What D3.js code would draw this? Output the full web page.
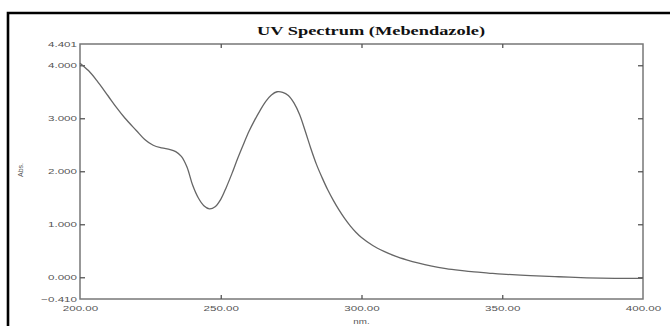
<!DOCTYPE html>
<html>
<head>
<meta charset="utf-8">
<script src="https://cdn.jsdelivr.net/npm/d3@7"></script>
<style>
  body { margin: 0; background: #fff; }
  svg text { font-family: Arial, "Liberation Sans", sans-serif; }
</style>
</head>
<body>
<div id="uvChart"></div>
<script>
// wavelength (nm) and absorbance
var wavelength = [200, 203, 206, 210, 213, 216, 220, 223, 226, 229, 232, 234, 236, 238, 240,
    242, 244, 246, 248, 250, 252, 254, 256, 258, 260, 262, 264, 266, 268, 270, 272, 274, 276,
    278, 280, 282, 284, 286, 288, 290, 292, 294, 296, 298, 300, 304, 308, 312, 316, 320, 325,
    330, 335, 340, 345, 350, 360, 370, 380, 390, 400];
var absorbance = [4.04, 3.90, 3.71, 3.42, 3.20, 3.00, 2.77, 2.60, 2.49, 2.44, 2.41, 2.37, 2.28, 2.08, 1.74,
    1.50, 1.35, 1.29, 1.33, 1.47, 1.70, 1.96, 2.24, 2.50, 2.75, 2.96, 3.15, 3.32, 3.44, 3.50, 3.49, 3.43, 3.29,
    3.07, 2.76, 2.43, 2.13, 1.88, 1.65, 1.45, 1.27, 1.11, 0.97, 0.85, 0.75, 0.60, 0.49, 0.40, 0.33, 0.27, 0.21,
    0.165, 0.13, 0.10, 0.08, 0.06, 0.03, 0.01, -0.01, -0.02, -0.02];

var xTicks = [200, 250, 300, 350, 400];
var yTicks = [4.401, 4, 3, 2, 1, 0, -0.410];
var yInnerTicks = [4, 3, 2, 1, 0];
var xInnerTicks = [250, 300, 350];

var margin = { top: 44, right: 27, bottom: 27, left: 80 },
    width = 670 - margin.left - margin.right,
    height = 326 - margin.top - margin.bottom;

var svg = d3.select("#uvChart").append("svg")
    .attr("width", 670)
    .attr("height", 326);

// outer black frame (runs off the right / bottom of the picture)
svg.append("path")
    .attr("d", "M8,330 L8,13 L675,13")
    .attr("fill", "none")
    .attr("stroke", "#000")
    .attr("stroke-width", 2.6);

var canvas = svg.append("g")
    .attr("transform", "translate(" + margin.left + "," + margin.top + ")");

var xScale = d3.scaleLinear().domain([200, 400]).range([0, width]);
var yScale = d3.scaleLinear().domain([-0.410, 4.401]).range([height, 0]);

// stretch text horizontally like the original
function stretch(sel, k) {
  sel.each(function() {
    var t = d3.select(this);
    var x = +t.attr("x") || 0;
    t.attr("transform", "translate(" + x + ",0) scale(" + k + ",1) translate(" + (-x) + ",0)");
  });
}

// plot frame
canvas.append("rect")
    .attr("width", width)
    .attr("height", height)
    .attr("fill", "none")
    .attr("stroke", "#777")
    .attr("stroke-width", 1.5);

// inner ticks
canvas.append("g").call(d3.axisRight(yScale).tickValues(yInnerTicks).tickSize(5).tickFormat(""))
    .call(function(g) { g.select(".domain").remove(); })
    .selectAll("line").attr("stroke", "#555").attr("stroke-width", 1.3);
canvas.append("g").attr("transform", "translate(" + width + ",0)")
    .call(d3.axisLeft(yScale).tickValues(yInnerTicks).tickSize(5).tickFormat(""))
    .call(function(g) { g.select(".domain").remove(); })
    .selectAll("line").attr("stroke", "#555").attr("stroke-width", 1.3);
canvas.append("g")
    .call(d3.axisBottom(xScale).tickValues(xInnerTicks).tickSize(4).tickFormat(""))
    .call(function(g) { g.select(".domain").remove(); })
    .selectAll("line").attr("stroke", "#555").attr("stroke-width", 1.3);
canvas.append("g").attr("transform", "translate(0," + height + ")")
    .call(d3.axisTop(xScale).tickValues(xInnerTicks).tickSize(4).tickFormat(""))
    .call(function(g) { g.select(".domain").remove(); })
    .selectAll("line").attr("stroke", "#555").attr("stroke-width", 1.3);

// tick labels
var yAxis = canvas.append("g")
    .call(d3.axisLeft(yScale).tickValues(yTicks).tickSize(0).tickPadding(3)
      .tickFormat(d3.format(".3f")));
yAxis.select(".domain").remove();
yAxis.selectAll("text")
    .style("font-size", "8px")
    .attr("fill", "#555")
    .call(stretch, 1.45);

var xAxis = canvas.append("g")
    .attr("transform", "translate(0," + height + ")")
    .call(d3.axisBottom(xScale).tickValues(xTicks).tickSize(0).tickPadding(6)
      .tickFormat(d3.format(".2f")));
xAxis.select(".domain").remove();
xAxis.selectAll("text")
    .style("font-size", "8px")
    .attr("fill", "#555")
    .call(stretch, 1.45);

// axis titles
canvas.append("text")
    .attr("x", xScale(300))
    .attr("y", height + 25)
    .attr("text-anchor", "middle")
    .style("font-size", "7px")
    .attr("fill", "#555")
    .text("nm.")
    .call(stretch, 1.4);

svg.append("text")
    .attr("transform", "translate(23,170) rotate(-90)")
    .attr("text-anchor", "middle")
    .style("font-size", "7px")
    .attr("fill", "#555")
    .text("Abs.");

// title
svg.append("text")
    .attr("x", 371)
    .attr("y", 35)
    .attr("text-anchor", "middle")
    .style("font-family", "'Liberation Serif', 'Times New Roman', serif")
    .style("font-weight", "bold")
    .style("font-size", "13px")
    .attr("fill", "#111")
    .attr("textLength", 228)
    .attr("lengthAdjust", "spacingAndGlyphs")
    .text("UV Spectrum (Mebendazole)");

// spectrum
var line = d3.line()
    .x(function(d, i) { return xScale(wavelength[i]); })
    .y(function(d) { return yScale(d); })
    .curve(d3.curveCatmullRom.alpha(0.5));

canvas.append("path")
    .datum(absorbance)
    .attr("fill", "none")
    .attr("stroke", "#666")
    .attr("stroke-width", 1.3)
    .attr("d", line);
</script>
</body>
</html>
